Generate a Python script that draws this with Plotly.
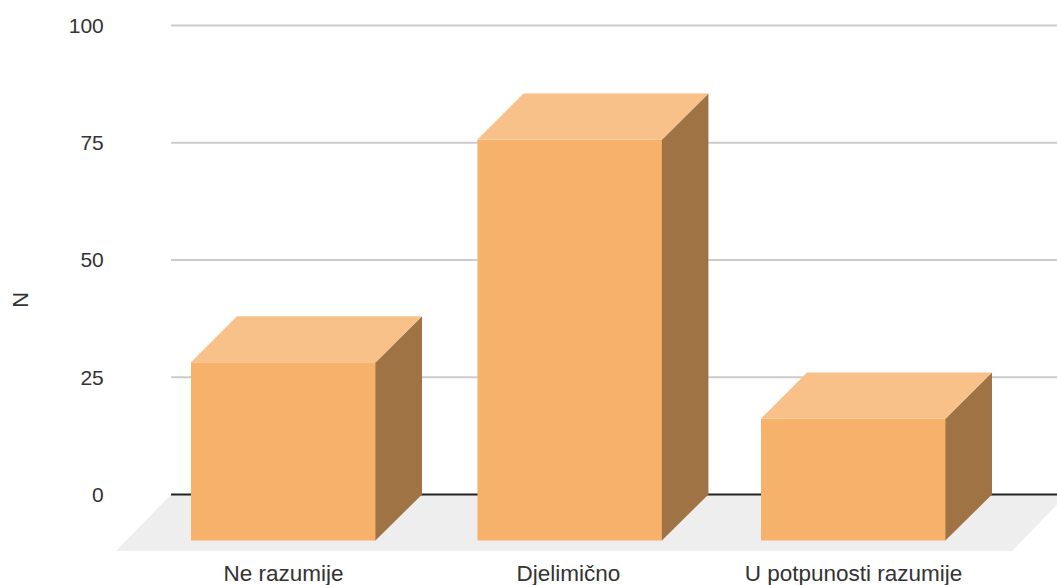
import plotly.graph_objects as go

categories = ["Ne razumije", "Djelimično", "U potpunosti razumije"]
values = [38, 85.5, 26]
bar_positions = [0.0, 1.005, 2.0]
tick_positions = [0, 1, 2]
y_ticks = [0, 25, 50, 75, 100]

FRONT = "#F6B26B"
TOP = "#F8C18A"
SIDE = "#A07345"
FLOOR = "#EEEEEE"
GRID = "#CCCCCC"
ZERO = "#222222"
TEXT = "#333333"
FONT = "Liberation Sans, Arial, sans-serif"

# Depth of the oblique projection, in axis units
depth_x = 0.1614
depth_y = 9.8
bar_width = 0.6491
seam = 0.002

x_range = [-0.5877, 2.714]
y_range = [-12.05, 103.09]
floor_left = x_range[0]
floor_right = 2.556
floor_shift_x = 0.193

fig = go.Figure()

shapes = [
    dict(
        type="path",
        layer="below",
        xref="x",
        yref="y",
        path=(
            f"M {floor_left} {y_range[0]} L {floor_right} {y_range[0]} "
            f"L {floor_right + floor_shift_x} 0 L {floor_left + floor_shift_x} 0 Z"
        ),
        fillcolor=FLOOR,
        line_width=0,
    )
]
for tick in y_ticks:
    shapes.append(
        dict(
            type="line",
            layer="below",
            xref="x",
            yref="y",
            x0=floor_left + floor_shift_x,
            x1=x_range[1],
            y0=tick,
            y1=tick,
            line=dict(color=ZERO if tick == 0 else GRID, width=2),
        )
    )

# Front faces
fig.add_trace(
    go.Bar(
        x=bar_positions,
        y=values,
        base=[-depth_y] * len(values),
        width=bar_width,
        marker=dict(color=FRONT, line_width=0),
        hoverinfo="skip",
    )
)

# Side and top faces, offset from each front face by the projection depth
for position, value in zip(bar_positions, values):
    left = position - bar_width / 2
    right = position + bar_width / 2
    front_top = value - depth_y
    fig.add_trace(
        go.Scatter(
            x=[right - seam, right + depth_x, right + depth_x, right - seam, right - seam],
            y=[-depth_y, 0, value, front_top, -depth_y],
            mode="none",
            fill="toself",
            fillcolor=SIDE,
            hoverinfo="skip",
        )
    )
    fig.add_trace(
        go.Scatter(
            x=[left, right, right + depth_x, left + depth_x, left],
            y=[front_top, front_top, value, value, front_top],
            mode="none",
            fill="toself",
            fillcolor=TOP,
            hoverinfo="skip",
        )
    )

fig.update_layout(
    width=1057,
    height=585,
    margin=dict(l=116, r=0, t=11, b=34),
    paper_bgcolor="white",
    plot_bgcolor="white",
    showlegend=False,
    shapes=shapes,
    font=dict(family=FONT, size=21, color=TEXT),
    annotations=[
        dict(
            text="N",
            xref="paper",
            yref="paper",
            x=-0.1165,
            y=0.465,
            showarrow=False,
            textangle=-90,
            font=dict(family=FONT, size=22, color=TEXT),
        )
    ],
)
fig.update_xaxes(
    automargin=False,
    range=x_range,
    tickmode="array",
    tickvals=tick_positions,
    ticktext=categories,
    tickfont=dict(size=22.5),
    showgrid=False,
    zeroline=False,
    showline=False,
    ticks="outside",
    ticklen=2,
    tickcolor="rgba(0,0,0,0)",
)
fig.update_yaxes(
    automargin=False,
    range=y_range,
    tickmode="array",
    tickvals=y_ticks,
    tickfont=dict(size=21),
    showgrid=False,
    zeroline=False,
    showline=False,
    ticks="outside",
    ticklen=7,
    tickcolor="rgba(0,0,0,0)",
)

fig.write_html("out.html")
